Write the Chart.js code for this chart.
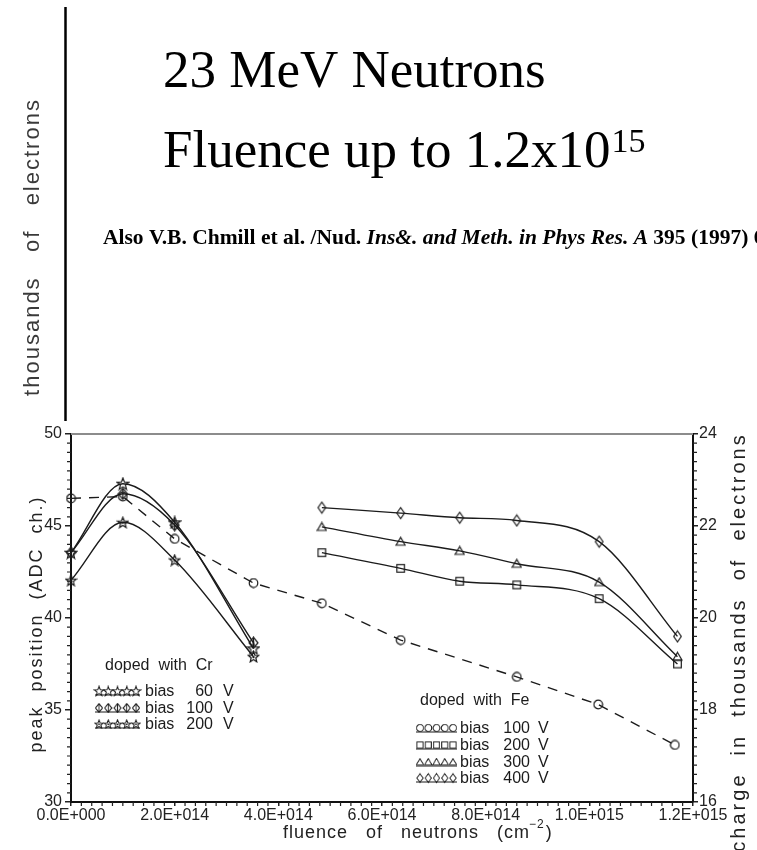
<!DOCTYPE html>
<html>
<head>
<meta charset="utf-8">
<script src="https://cdn.jsdelivr.net/npm/chart.js@4.4.1/dist/chart.umd.min.js"></script>
<style>
  html, body { margin: 0; padding: 0; background: #fff; overflow: hidden; }
  #chart { display: block; }
</style>
</head>
<body>
<canvas id="chart" width="757" height="850"></canvas>
<script>
// fluence values are in units of 1e14 n/cm^2
const crFluence = [0, 1.0, 2.0, 3.52];
const cr60 = [43.55, 47.3, 45.2, 38.35];
const cr100 = [43.55, 46.75, 45.05, 38.65];
const cr200 = [42.05, 45.2, 43.15, 37.9];

const fe100Fluence = [0, 1.0, 2.0, 3.52, 4.84, 6.36, 8.6, 10.17, 11.65];
const fe100 = [46.5, 46.6, 44.3, 41.9, 40.8, 38.8, 36.8, 35.3, 33.1];

const feFluence = [4.84, 6.36, 7.5, 8.6, 10.19, 11.7];
const fe200 = [43.55, 42.7, 42.0, 41.8, 41.05, 37.5];
const fe300 = [44.95, 44.15, 43.65, 42.95, 41.95, 37.9];
const fe400 = [46.0, 45.7, 45.45, 45.3, 44.15, 39.0];

const crBias = [60, 100, 200];
const feBias = [100, 200, 300, 400];

const xTicks = [0, 2, 4, 6, 8, 10, 12];
const peakTicks = [30, 35, 40, 45, 50];
const chargeTicks = [16, 18, 20, 22, 24];

const INK = '#1b1b1b';
const SANS = "'Liberation Sans', Arial, sans-serif";
const SERIF = "'Liberation Serif', 'Times New Roman', serif";

function fmtE(v) {
  if (v === 0) return '0.0E+000';
  const e = Math.floor(Math.log10(v) + 1e-9);
  const m = v / Math.pow(10, e);
  return m.toFixed(1) + 'E+' + String(e).padStart(3, '0');
}

// small canvases used as point styles
function marker(w, h, draw) {
  const c = document.createElement('canvas');
  c.width = w;
  c.height = h;
  const g = c.getContext('2d');
  g.strokeStyle = INK;
  g.lineWidth = 1.2;
  draw(g, w / 2, h / 2);
  return c;
}

function starPath(g, cx, cy, ro, ri) {
  g.beginPath();
  for (let i = 0; i < 10; i++) {
    const r = i % 2 ? ri : ro;
    const a = -Math.PI / 2 + i * Math.PI / 5;
    g.lineTo(cx + r * Math.cos(a), cy + r * Math.sin(a));
  }
  g.closePath();
}

const starOpen = marker(14, 14, (g, cx, cy) => { starPath(g, cx, cy + 0.5, 6.2, 2.6); g.stroke(); });
const starSmall = marker(13, 13, (g, cx, cy) => {
  starPath(g, cx, cy + 0.5, 5.6, 2.4); g.stroke();
  g.fillStyle = INK; g.fillRect(cx - 1, cy - 0.5, 2, 2);
});
const diamondBar = marker(11, 13, (g, cx, cy) => {
  g.beginPath(); g.moveTo(cx, 1); g.lineTo(cx + 4.5, cy); g.lineTo(cx, 12); g.lineTo(cx - 4.5, cy); g.closePath(); g.stroke();
  g.beginPath(); g.moveTo(cx, 1); g.lineTo(cx, 12); g.stroke();
});
const circleMark = marker(11, 11, (g, cx, cy) => { g.beginPath(); g.arc(cx, cy, 4.3, 0, Math.PI * 2); g.stroke(); });
const squareMark = marker(11, 11, (g, cx, cy) => { g.strokeRect(cx - 3.8, cy - 3.8, 7.6, 7.6); });
const triMark = marker(11, 11, (g, cx, cy) => {
  g.beginPath(); g.moveTo(cx, cy - 4.2); g.lineTo(cx + 4.5, cy + 3.5); g.lineTo(cx - 4.5, cy + 3.5); g.closePath(); g.stroke();
});
const diamondMark = marker(11, 14, (g, cx, cy) => {
  g.beginPath(); g.moveTo(cx, 1.5); g.lineTo(cx + 3.8, cy); g.lineTo(cx, 12.5); g.lineTo(cx - 3.8, cy); g.closePath(); g.stroke();
});

function series(label, xs, ys, style, extra) {
  return Object.assign({
    label: label,
    data: xs.map((x, i) => ({ x: x, y: ys[i] })),
    yAxisID: 'y',
    borderColor: INK,
    borderWidth: 1.4,
    pointStyle: style,
    pointRadius: 5,
    pointBorderColor: INK,
    pointBackgroundColor: 'rgba(0,0,0,0)',
    cubicInterpolationMode: 'monotone',
    fill: false,
    clip: false
  }, extra || {});
}

function vText(ctx, str, cx, cy, font, color, spacing) {
  ctx.save();
  ctx.translate(cx, cy);
  ctx.rotate(-Math.PI / 2);
  ctx.font = font;
  ctx.fillStyle = color;
  ctx.letterSpacing = spacing || '0px';
  ctx.textAlign = 'center';
  ctx.textBaseline = 'middle';
  ctx.fillText(str, 0, 0);
  ctx.restore();
}

function legendBlock(ctx, title, tx, ty, rows, sx0, sx1, biasX, valRight, vX, rowY) {
  ctx.save();
  ctx.fillStyle = INK;
  ctx.font = '16px ' + SANS;
  ctx.textBaseline = 'alphabetic';
  ctx.fillText(title, tx, ty);
  rows.forEach((r, i) => {
    const by = rowY[i];
    const cy = by - 5;
    ctx.strokeStyle = INK;
    ctx.lineWidth = 1.2;
    ctx.beginPath(); ctx.moveTo(sx0, cy + 4); ctx.lineTo(sx1, cy + 4); ctx.stroke();
    const n = 5;
    for (let k = 0; k < n; k++) {
      const mx = sx0 + 4 + k * (sx1 - sx0 - 8) / (n - 1);
      const w = r.img.width * 0.8, h = r.img.height * 0.8;
      ctx.drawImage(r.img, mx - w / 2, cy - h / 2, w, h);
    }
    ctx.textAlign = 'left';
    ctx.fillText('bias', biasX, by);
    ctx.textAlign = 'right';
    ctx.fillText(String(r.bias), valRight, by);
    ctx.textAlign = 'left';
    ctx.fillText('V', vX, by);
  });
  ctx.restore();
}

const overlay = {
  id: 'overlay',
  afterDraw(chart) {
    const ctx = chart.ctx;
    const a = chart.chartArea;
    const { x, y, y2 } = chart.scales;

    // top frame line
    ctx.save();
    ctx.strokeStyle = '#8c8c8c';
    ctx.lineWidth = 2;
    ctx.beginPath(); ctx.moveTo(a.left, a.top); ctx.lineTo(a.right, a.top); ctx.stroke();

    // minor ticks
    ctx.strokeStyle = '#222';
    ctx.lineWidth = 1.2;
    ctx.beginPath();
    for (let i = 0; i <= 40; i++) {
      if (i % 10 === 0) continue;
      const py = y.getPixelForValue(30 + i * 0.5);
      ctx.moveTo(a.left - 4, py); ctx.lineTo(a.left, py);
      const qy = y2.getPixelForValue(16 + i * 0.2);
      ctx.moveTo(a.right, qy); ctx.lineTo(a.right + 4, qy);
    }
    for (let i = 0; i <= 60; i++) {
      if (i % 10 === 0) continue;
      const px = x.getPixelForValue(i * 0.2);
      ctx.moveTo(px, a.bottom); ctx.lineTo(px, a.bottom + 4);
    }
    ctx.stroke();
    ctx.restore();

    // axis titles
    vText(ctx, 'peak  position  (ADC  ch.)', 37, 624, '18px ' + SANS, '#222', '2px');
    vText(ctx, 'charge  in  thousands  of  electrons', 739, 642, '20px ' + SANS, '#222', '3px');

    ctx.save();
    ctx.fillStyle = '#222';
    ctx.font = '18px ' + SANS;
    ctx.letterSpacing = '1px';
    ctx.textBaseline = 'alphabetic';
    const main = 'fluence   of   neutrons   (cm';
    ctx.fillText(main, 283, 838);
    let px = 283 + ctx.measureText(main).width;
    ctx.font = '12px ' + SANS;
    ctx.fillText('\u22122', px - 1, 828);
    px += ctx.measureText('\u22122').width - 1;
    ctx.font = '18px ' + SANS;
    ctx.fillText(')', px + 1, 838);
    ctx.restore();

    // legends
    legendBlock(ctx, 'doped  with  Cr', 105, 670,
      [{ img: starOpen, bias: crBias[0] }, { img: diamondBar, bias: crBias[1] }, { img: starSmall, bias: crBias[2] }],
      95, 140, 145, 213, 223, [696, 713, 729]);
    legendBlock(ctx, 'doped  with  Fe', 420, 705,
      [{ img: circleMark, bias: feBias[0] }, { img: squareMark, bias: feBias[1] },
       { img: triMark, bias: feBias[2] }, { img: diamondMark, bias: feBias[3] }],
      416, 457, 460, 530, 538, [733, 750, 767, 783]);

    // header above the chart
    ctx.save();
    ctx.fillStyle = '#000';
    ctx.textBaseline = 'alphabetic';
    ctx.font = '53px ' + SERIF;
    ctx.fillText('23 MeV Neutrons', 163, 87);
    const l2 = 'Fluence up to 1.2x10';
    ctx.fillText(l2, 163, 167);
    const l2w = ctx.measureText(l2).width;
    ctx.font = '34px ' + SERIF;
    ctx.fillText('15', 163 + l2w + 1, 152);

    let cx = 103;
    const cite = [
      ['bold 21.5px ' + SERIF, 'Also V.B. Chmill et al. /Nud. '],
      ['italic bold 21.5px ' + SERIF, 'Ins&. and Meth. in Phys Res. A'],
      ['bold 21.5px ' + SERIF, ' 395 (1997) 61']
    ];
    cite.forEach(([f, t]) => {
      ctx.font = f;
      ctx.fillText(t, cx, 244);
      cx += ctx.measureText(t).width;
    });

    ctx.strokeStyle = '#000';
    ctx.lineWidth = 2.5;
    ctx.beginPath(); ctx.moveTo(65.5, 7); ctx.lineTo(65.5, 421); ctx.stroke();
    ctx.restore();

    vText(ctx, 'thousands   of   electrons', 33, 247, '22px ' + SANS, '#3a3a3a', '2px');
  }
};

const tickFont = { family: SANS, size: 16 };

new Chart(document.getElementById('chart'), {
  type: 'line',
  data: {
    datasets: [
      series('Fe 100 V', fe100Fluence, fe100, circleMark, { borderDash: [10, 8], cubicInterpolationMode: 'default', tension: 0 }),
      series('Cr 60 V', crFluence, cr60, starOpen),
      series('Cr 100 V', crFluence, cr100, diamondBar),
      series('Cr 200 V', crFluence, cr200, starSmall),
      series('Fe 200 V', feFluence, fe200, squareMark),
      series('Fe 300 V', feFluence, fe300, triMark),
      series('Fe 400 V', feFluence, fe400, diamondMark)
    ]
  },
  options: {
    responsive: false,
    animation: false,
    devicePixelRatio: 1,
    layout: { padding: { top: 434, left: 0, right: 0, bottom: 0 } },
    plugins: { legend: { display: false }, tooltip: { enabled: false } },
    scales: {
      x: {
        type: 'linear', min: 0, max: 12, position: 'bottom',
        afterFit: (s) => { s.height = 48; },
        afterBuildTicks: (s) => { s.ticks = xTicks.map(v => ({ value: v })); },
        ticks: { callback: (v) => fmtE(v * 1e14), font: tickFont, color: '#222', padding: 0, maxRotation: 0, autoSkip: false },
        grid: { drawOnChartArea: false, drawTicks: true, tickLength: 4, color: '#222', lineWidth: 1.5 },
        border: { display: true, color: '#111', width: 2 }
      },
      y: {
        type: 'linear', min: 30, max: 50, position: 'left',
        afterFit: (s) => { s.width = 71; },
        afterBuildTicks: (s) => { s.ticks = peakTicks.map(v => ({ value: v })); },
        ticks: { font: tickFont, color: '#222', padding: 3 },
        grid: { drawOnChartArea: false, drawTicks: true, tickLength: 6, color: '#222', lineWidth: 1.5 },
        border: { display: true, color: '#111', width: 2 }
      },
      y2: {
        type: 'linear', min: 16, max: 24, position: 'right',
        afterFit: (s) => { s.width = 64; },
        afterBuildTicks: (s) => { s.ticks = chargeTicks.map(v => ({ value: v })); },
        ticks: { font: tickFont, color: '#222', padding: 1 },
        grid: { drawOnChartArea: false, drawTicks: true, tickLength: 5, color: '#222', lineWidth: 1.5 },
        border: { display: true, color: '#111', width: 2 }
      }
    }
  },
  plugins: [overlay]
});
</script>
</body>
</html>
